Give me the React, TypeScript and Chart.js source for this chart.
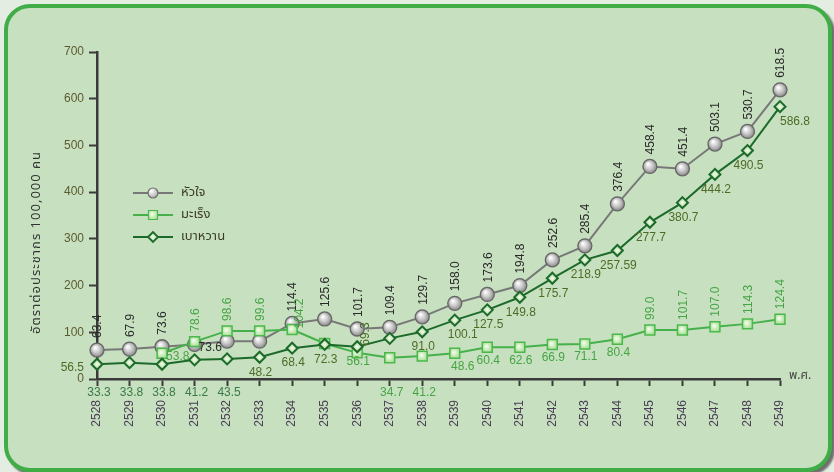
import React, { useEffect, useRef } from 'react';
import { Chart, registerables } from 'chart.js';

Chart.register(...registerables);

const years = ['2528','2529','2530','2531','2532','2533','2534','2535','2536','2537','2538','2539','2540','2541','2542','2543','2544','2545','2546','2547','2548','2549'];
const yTicks = [0, 100, 200, 300, 400, 500, 600, 700];

const heart = [62, 64, 69, 74, 81, 81, 119, 128.5, 107, 110.7, 133, 162, 181, 200, 255, 285, 375, 455, 450, 503, 530, 619];
const cancer = [null, null, 55, 80, 103, 103, 106, 76, 56, 45.6, 49, 55, 68, 68, 74, 75, 85, 105, 105, 112, 118, 128];
const diabetes = [31.5, 35, 31.5, 41, 43, 46.5, 66, 74, 69, 87, 101, 126, 148, 175, 215.6, 255, 275, 335.5, 377.5, 438, 489, 583];

const heartLabels = ['63.4','67.9','73.6','73.6','','','114.4','125.6','101.7','109.4','129.7','158.0','173.6','194.8','252.6','285.4','376.4','458.4','451.4','503.1','530.7','618.5'];
const heartPlaces = ['u','u','u','r','','','u','u','u','u','u','u','u','u','u','u','u','u','u','u','u','u'];
const cancerLabels = ['','','53.8','78.6','98.6','99.6','104.2','','56.1','','','48.6','60.4','62.6','66.9','71.1','80.4','99.0','101.7','107.0','114.3','124.4'];
const cancerPlaces = ['','','r','u','u','u','ur','','ds','','','dd','d','d','d','d','d','u','u','u','u','u'];
const diabetesLabels = ['56.5','','','','','48.2','68.4','72.3','69.3','','91.0','100.1','127.5','149.8','175.7','218.9','257.59','277.7','380.7','444.2','490.5','586.8'];
const diabetesPlaces = ['l','','','','','d','d','d','ur','','d','dd','d','d','d','d','d','d','d','d','d','dr'];
const diabetesAxisLabels = ['33.3','33.8','33.8','41.2','43.5','','','','','','','','','','','','','','','','',''];
const cancerAxisLabels = ['','','','','','','','','','34.7','41.2','','','','','','','','','','',''];

const seriesNames = ['หัวใจ', 'มะเร็ง', 'เบาหวาน'];
const yTitle = 'อัตราต่อประชากร 100,000 คน';
const xUnit = 'พ.ศ.';

const NUM_FONT = '12px "Liberation Sans", Arial, sans-serif';
const THAI_FONT = '"Noto Sans Thai", "Noto Sans", "Liberation Sans", sans-serif';

const C_HEART_LINE = '#787878';
const C_CANCER_LINE = '#46b04a';
const C_DIAB_LINE = '#1c6a2a';
const C_HEART_TXT = '#2a2a2a';
const C_CANCER_TXT = '#46a444';
const C_DIAB_TXT = '#4f6a26';

function heartFill(ctx: CanvasRenderingContext2D, x: number, y: number) {
  const g = ctx.createRadialGradient(x - 2, y - 2.5, 0.5, x, y, 7.5);
  g.addColorStop(0, '#ffffff');
  g.addColorStop(0.5, '#c8c8c8');
  g.addColorStop(1, '#808080');
  return g;
}
function cancerFill(ctx: CanvasRenderingContext2D, x: number, y: number) {
  const g = ctx.createRadialGradient(x - 1, y - 1, 0.5, x, y, 7);
  g.addColorStop(0, '#f2fbe8');
  g.addColorStop(1, '#8fd47c');
  return g;
}
function diabFill(ctx: CanvasRenderingContext2D, x: number, y: number) {
  const g = ctx.createRadialGradient(x, y, 0.5, x, y, 5);
  g.addColorStop(0, '#eef8e4');
  g.addColorStop(1, '#a9d49a');
  return g;
}

function scriptFill(fn: (ctx: CanvasRenderingContext2D, x: number, y: number) => CanvasGradient, fallback: string) {
  return (c: any) => {
    if (c.type !== 'data' || c.raw == null) return fallback;
    const ch = c.chart;
    const xs = ch.scales.x, ys = ch.scales.y;
    if (!xs || !ys) return fallback;
    const x = xs.getPixelForValue(c.dataIndex);
    const y = ys.getPixelForValue(c.raw);
    if (!isFinite(x) || !isFinite(y)) return fallback;
    return fn(ch.ctx, x, y);
  };
}

const labelSets = [
  { ds: 0, texts: heartLabels, places: heartPlaces, color: C_HEART_TXT, gapU: 12, gapD: 14 },
  { ds: 1, texts: cancerLabels, places: cancerPlaces, color: C_CANCER_TXT, gapU: 10, gapD: 13 },
  { ds: 2, texts: diabetesLabels, places: diabetesPlaces, color: C_DIAB_TXT, gapU: 10, gapD: 15 },
];
const axisLabelSets = [
  { texts: diabetesAxisLabels, color: '#3a7a44' },
  { texts: cancerAxisLabels, color: C_CANCER_TXT },
];

const decorPlugin = {
  id: 'decor',
  afterDatasetsDraw(chart: any) {
    const ctx: CanvasRenderingContext2D = chart.ctx;
    const xs = chart.scales.x;
    const ys = chart.scales.y;
    ctx.save();
    ctx.font = NUM_FONT;
    labelSets.forEach((set) => {
      const meta = chart.getDatasetMeta(set.ds);
      meta.data.forEach((pt: any, i: number) => {
        const t = set.texts[i];
        const mode = set.places[i];
        if (!t || !mode || pt.skip) return;
        const x = pt.x, y = pt.y;
        ctx.fillStyle = set.color;
        if (mode === 'u' || mode === 'ur') {
          ctx.save();
          const dx = mode === 'ur' ? 8 : 1;
          const gap = mode === 'ur' ? 1 : set.gapU;
          ctx.translate(x + dx, y - gap);
          ctx.rotate(-Math.PI / 2);
          ctx.textAlign = 'left';
          ctx.textBaseline = 'middle';
          ctx.fillText(t, 0, 0);
          ctx.restore();
        } else if (mode === 'd' || mode === 'ds' || mode === 'dd') {
          ctx.textAlign = 'center';
          ctx.textBaseline = 'middle';
          const gap = mode === 'ds' ? 9 : set.gapD;
          const dx = mode === 'dd' ? 8 : 1;
          ctx.fillText(t, x + dx, y + gap);
        } else if (mode === 'r') {
          ctx.textAlign = 'left';
          ctx.textBaseline = 'middle';
          ctx.fillText(t, x + 4, y + 3);
        } else if (mode === 'l') {
          ctx.textAlign = 'right';
          ctx.textBaseline = 'middle';
          ctx.fillText(t, x - 13, y + 3);
        } else if (mode === 'dr') {
          ctx.textAlign = 'left';
          ctx.textBaseline = 'middle';
          ctx.fillText(t, x, y + 15);
        }
      });
    });
    axisLabelSets.forEach((set) => {
      set.texts.forEach((t, i) => {
        if (!t) return;
        ctx.fillStyle = set.color;
        ctx.textAlign = 'center';
        ctx.textBaseline = 'middle';
        ctx.fillText(t, xs.getPixelForValue(i) + 2, ys.bottom + 14);
      });
    });
    ctx.fillStyle = '#444444';
    ctx.font = '12px ' + THAI_FONT;
    ctx.textAlign = 'left';
    ctx.textBaseline = 'middle';
    ctx.fillText(xUnit, xs.right + 9, ys.bottom - 2);
    ctx.save();
    ctx.translate(37, (ys.top + ys.bottom) / 2 + 27);
    ctx.rotate(-Math.PI / 2);
    ctx.font = '13px ' + THAI_FONT;
    try { (ctx as any).letterSpacing = '1px'; } catch (e) {}
    ctx.fillStyle = '#333333';
    ctx.textAlign = 'center';
    ctx.textBaseline = 'middle';
    ctx.fillText(yTitle, 0, 0);
    try { (ctx as any).letterSpacing = '0px'; } catch (e) {}
    ctx.restore();
    const rows = [193, 215, 237];
    const lineColors = [C_HEART_LINE, C_CANCER_LINE, C_DIAB_LINE];
    rows.forEach((ry, k) => {
      ctx.strokeStyle = lineColors[k];
      ctx.lineWidth = 2;
      ctx.beginPath();
      ctx.moveTo(133, ry);
      ctx.lineTo(173, ry);
      ctx.stroke();
      const mx = 153;
      ctx.beginPath();
      if (k === 0) {
        ctx.arc(mx, ry, 5, 0, Math.PI * 2);
        ctx.fillStyle = heartFill(ctx, mx, ry);
        ctx.fill();
        ctx.strokeStyle = '#6e6e6e';
        ctx.lineWidth = 1.2;
        ctx.stroke();
      } else if (k === 1) {
        ctx.rect(mx - 4.5, ry - 4.5, 9, 9);
        ctx.fillStyle = cancerFill(ctx, mx, ry);
        ctx.fill();
        ctx.strokeStyle = '#4cb84c';
        ctx.lineWidth = 1.2;
        ctx.stroke();
      } else {
        ctx.moveTo(mx - 5, ry);
        ctx.lineTo(mx, ry - 5);
        ctx.lineTo(mx + 5, ry);
        ctx.lineTo(mx, ry + 5);
        ctx.closePath();
        ctx.fillStyle = diabFill(ctx, mx, ry);
        ctx.fill();
        ctx.strokeStyle = '#1c6a2a';
        ctx.lineWidth = 1.8;
        ctx.stroke();
      }
      ctx.fillStyle = '#3b3b25';
      ctx.font = '13px ' + THAI_FONT;
      ctx.textAlign = 'left';
      ctx.textBaseline = 'middle';
      ctx.fillText(seriesNames[k], 181, ry);
    });
    ctx.restore();
  },
};

export default function App() {
  const ref = useRef<HTMLCanvasElement | null>(null);
  useEffect(() => {
    document.body.style.margin = '0';
    if (!ref.current) return;
    const chart = new Chart(ref.current, {
      type: 'line',
      data: {
        labels: years,
        datasets: [
          {
            label: seriesNames[0],
            data: heart,
            borderColor: C_HEART_LINE,
            borderWidth: 2,
            pointStyle: 'circle',
            pointRadius: 7,
            pointBorderWidth: 1.3,
            pointBorderColor: '#666666',
            pointBackgroundColor: scriptFill(heartFill, '#cccccc') as any,
            tension: 0,
            order: 3,
            clip: false as any,
          },
          {
            label: seriesNames[1],
            data: cancer,
            borderColor: C_CANCER_LINE,
            borderWidth: 2,
            pointStyle: 'rect',
            pointRadius: 7,
            pointBorderWidth: 1.5,
            pointBorderColor: '#4cb84c',
            pointBackgroundColor: scriptFill(cancerFill, '#bfe6b0') as any,
            tension: 0,
            spanGaps: false,
            order: 2,
            clip: false as any,
          },
          {
            label: seriesNames[2],
            data: diabetes,
            borderColor: C_DIAB_LINE,
            borderWidth: 2,
            pointStyle: 'rectRot',
            pointRadius: 5.5,
            pointBorderWidth: 2,
            pointBorderColor: '#1c6a2a',
            pointBackgroundColor: scriptFill(diabFill, '#cde8c0') as any,
            tension: 0,
            order: 1,
            clip: false as any,
          },
        ],
      },
      options: {
        animation: false,
        responsive: false,
        devicePixelRatio: 1,
        layout: { padding: { left: 0, right: 54, top: 52, bottom: 0 } },
        plugins: { legend: { display: false }, tooltip: { enabled: false }, title: { display: false } },
        elements: { point: { hoverRadius: 6 } },
        scales: {
          x: {
            type: 'category',
            offset: false,
            grid: { drawOnChartArea: false, drawTicks: true, tickLength: 7, tickColor: '#3a3a3a', tickWidth: 2 },
            border: { display: true, color: '#3a3a3a', width: 2.5 },
            ticks: {
              autoSkip: false,
              minRotation: 90,
              maxRotation: 90,
              padding: 14,
              color: '#4a3f55',
              font: { family: '"Liberation Sans", Arial, sans-serif', size: 12 },
            },
            afterFit: (s: any) => { s.height = 93; },
          },
          y: {
            type: 'linear',
            min: 0,
            max: 700,
            afterBuildTicks: (s: any) => { s.ticks = yTicks.map((v) => ({ value: v })); },
            grid: { drawOnChartArea: false, drawTicks: true, tickLength: 8, tickColor: '#3a3a3a', tickWidth: 2 },
            border: { display: true, color: '#3a3a3a', width: 2.5 },
            ticks: {
              padding: 5,
              color: '#5c5a30',
              font: { family: '"Liberation Sans", Arial, sans-serif', size: 12 },
            },
            afterFit: (s: any) => { s.width = 97; },
          },
        },
      },
      plugins: [decorPlugin],
    });
    return () => chart.destroy();
  }, []);

  return (
    <div style={{ position: 'fixed', left: 0, top: 0, width: 834, height: 472, background: '#e4ede1', overflow: 'hidden' }}>
      <div
        style={{
          position: 'absolute',
          left: 4,
          top: 4,
          width: 820,
          height: 460,
          border: '4px solid #41ad47',
          borderRadius: 26,
          background: '#c7e1c0',
          boxShadow: '3px 3px 2px #6f6f6f',
        }}
      />
      <canvas ref={ref} width={834} height={472} style={{ position: 'absolute', left: 0, top: 0, width: 834, height: 472 }} />
    </div>
  );
}
